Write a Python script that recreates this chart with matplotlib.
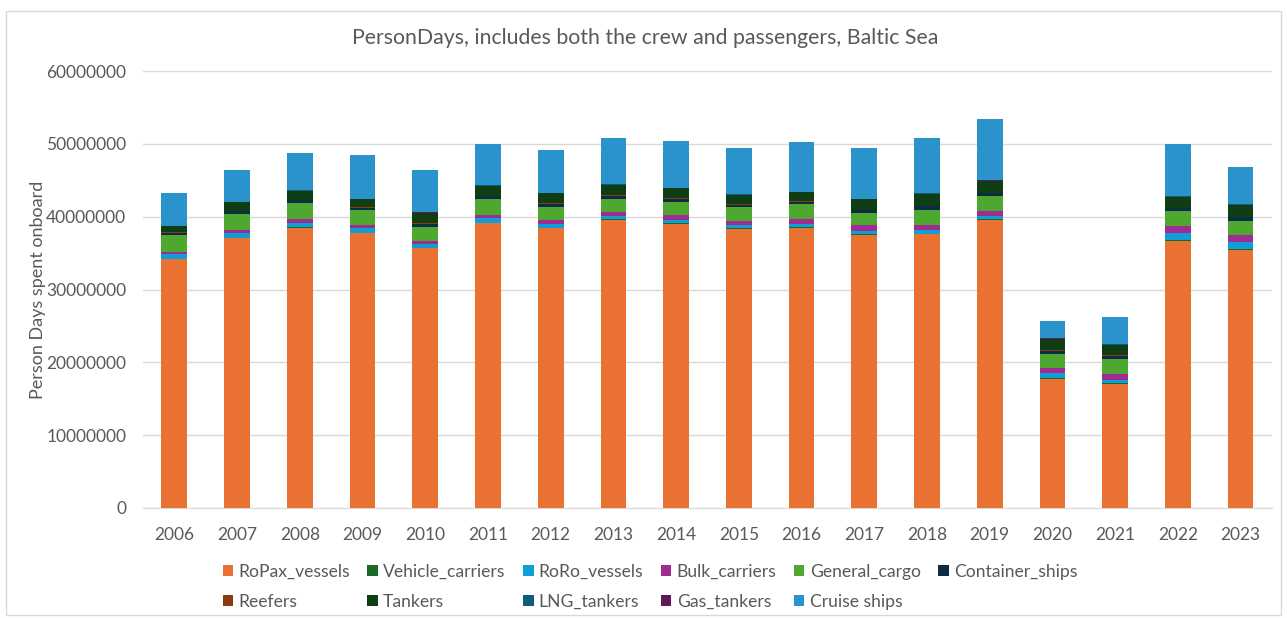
import matplotlib.pyplot as plt
from matplotlib.patches import Rectangle
import numpy as np

years = [str(y) for y in range(2006, 2024)]

# person days per ship type, in millions
ropax = [34.15, 37.03, 38.5, 37.7, 35.66, 39.1, 38.4, 39.55, 39.0, 38.3, 38.5, 37.48, 37.58, 39.55, 17.7, 17.03, 36.7, 35.43]
vehicle = [0.1] * 18
roro = [0.63, 0.57, 0.6, 0.7, 0.54, 0.6, 0.5, 0.5, 0.5, 0.46, 0.4, 0.5, 0.49, 0.5, 0.7, 0.45, 0.92, 0.95]
bulk = [0.32, 0.47, 0.44, 0.36, 0.4, 0.5, 0.5, 0.55, 0.6, 0.59, 0.68, 0.78, 0.69, 0.65, 0.68, 0.82, 1.0, 1.0]
general = [2.28, 2.16, 2.2, 2.04, 1.9, 2.1, 1.9, 1.8, 1.86, 1.85, 2.0, 1.6, 2.1, 2.04, 1.97, 2.06, 2.06, 1.97]
container = [0.35, 0.4, 0.4, 0.35, 0.4, 0.4, 0.35, 0.4, 0.4, 0.35, 0.35, 0.4, 0.45, 0.4, 0.45, 0.45, 0.4, 0.45]
reefers = [0.05, 0.1, 0.07, 0.07, 0.08, 0.08, 0.15, 0.08, 0.08, 0.08, 0.06, 0.08, 0.08, 0.08, 0.06, 0.06, 0.06, 0.06]
tankers = [0.8, 1.13, 1.25, 1.1, 1.44, 1.39, 1.32, 1.44, 1.38, 1.29, 1.26, 1.48, 1.67, 1.6, 1.56, 1.47, 1.52, 1.7]
lng = [0.04] * 18
gas = [0.04] * 18
cruise = [4.44, 4.34, 5.14, 6.0, 5.8, 5.65, 5.8, 6.3, 6.4, 6.3, 6.77, 6.9, 7.56, 8.4, 2.42, 3.75, 7.2, 5.04]

series = [
    ("RoPax_vessels", ropax, "#E97132"),
    ("Vehicle_carriers", vehicle, "#196B24"),
    ("RoRo_vessels", roro, "#0F9ED5"),
    ("Bulk_carriers", bulk, "#A02B93"),
    ("General_cargo", general, "#4EA72E"),
    ("Container_ships", container, "#0B2C45"),
    ("Reefers", reefers, "#8B3A12"),
    ("Tankers", tankers, "#0F3E14"),
    ("LNG_tankers", lng, "#0E5C7C"),
    ("Gas_tankers", gas, "#5E1A57"),
    ("Cruise ships", cruise, "#2A93CC"),
]

plt.rcParams['font.family'] = ['Lato', 'DejaVu Sans']
text_col = "#595959"

fig = plt.figure(figsize=(12.87, 6.18), dpi=100)
fig.patches.append(Rectangle((0.005, 0.005), 0.99, 0.978, transform=fig.transFigure,
                             fill=False, edgecolor="#D9D9D9", linewidth=1))
ax = fig.add_axes([0.1111, 0.178, 0.8772, 0.707])

x = np.arange(len(years))
bottom = np.zeros(len(years))
handles = []
for name, vals, col in series:
    v = np.array(vals) * 1e6
    h = ax.bar(x, v, 0.41, bottom=bottom, color=col, label=name, zorder=3)
    handles.append(h)
    bottom += v

ax.set_xlim(-0.5, len(years) - 0.5)
ax.set_ylim(0, 60000000)
ax.set_yticks(np.arange(0, 60000001, 10000000))
ax.set_yticklabels([str(int(t)) for t in np.arange(0, 60000001, 10000000)])
ax.set_xticks(x)
ax.set_xticklabels(years)
ax.grid(axis='y', color="#D9D9D9", linewidth=1, zorder=0)
for s in ['top', 'right', 'left']:
    ax.spines[s].set_visible(False)
ax.spines['bottom'].set_color("#D9D9D9")
ax.tick_params(axis='both', length=0, labelsize=12.5, labelcolor=text_col)
ax.tick_params(axis='y', pad=12)
ax.tick_params(axis='x', pad=14)
ax.set_ylabel("Person Days spent onboard", fontsize=13, color=text_col)
ax.yaxis.set_label_coords(-0.086, 0.5)

fig.text(0.501, 0.938, "PersonDays, includes both the crew and passengers, Baltic Sea",
         ha='center', va='center', fontsize=15.3, color=text_col)

# matplotlib fills legend columns first, so interleave to get row order
order = [0, 6, 1, 7, 2, 8, 3, 9, 4, 10, 5]
fig.legend([handles[i] for i in order], [series[i][0] for i in order],
           loc='center', bbox_to_anchor=(0.505, 0.05), ncol=6, frameon=False,
           fontsize=12.6, labelcolor=text_col, handlelength=0.6, handleheight=0.6,
           handletextpad=0.3, columnspacing=1.0, labelspacing=0.8)

fig.savefig("out.png", dpi=100)
